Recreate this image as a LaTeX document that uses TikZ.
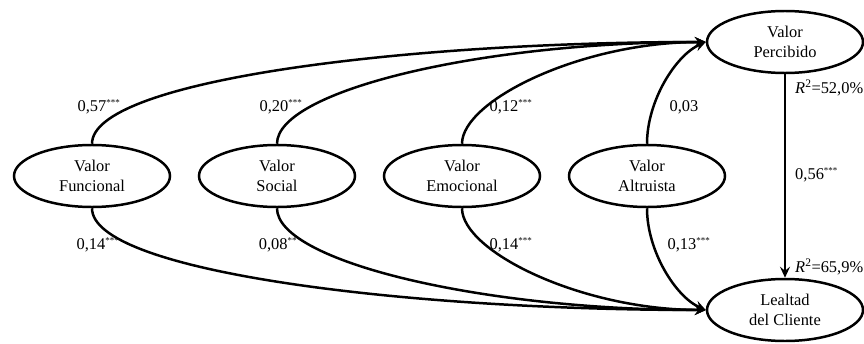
\documentclass[tikz,border=0pt]{standalone}
\usepackage{fontspec}
\setmainfont{Liberation Serif}
\usepackage{tikz}
\usetikzlibrary{shapes.geometric,arrows.meta}
\tikzset{latent/.style={draw, ellipse, line width=2.5pt, minimum width=156bp, minimum height=62bp,
inner sep=0pt, align=center, font=\fontsize{16.5}{20}\selectfont},
arrow/.style={draw, line width=2.5pt, -{Stealth[length=11bp, width=10bp, inset=4bp]}},
coef/.style={font=\fontsize{16.5}{20}\selectfont, inner sep=0pt}}
\newcommand{\signif}[1]{\textsuperscript{\fontsize{9}{9}\selectfont #1}}

\begin{document}
\begin{tikzpicture}[x=1bp,y=1bp]
    \useasboundingbox (0,0) rectangle (864,343);

    % Define the latent variables
    \node[latent] (funcional) at (92,167) {Valor\\Funcional};
    \node[latent] (social) at (277,167) {Valor\\Social};
    \node[latent] (emocional) at (462,167) {Valor\\Emocional};
    \node[latent] (altruista) at (647,167) {Valor\\Altruista};
    \node[latent] (percibido) at (785,301) {Valor\\Percibido};
    \node[latent] (lealtad) at (785,33) {Lealtad\\del Cliente};

    % Paths to the perceived value
    \draw[arrow] (funcional.north) .. controls +(0,63) and +(-305,0) .. (percibido.west);
    \draw[arrow] (social.north) .. controls +(0,53) and +(-225,0) .. (percibido.west);
    \draw[arrow] (emocional.north) .. controls +(0,43) and +(-125,0) .. (percibido.west);
    \draw[arrow] (altruista.north) .. controls +(0,43) and +(-30,-13) .. (percibido.west);

    % Paths to the loyalty
    \draw[arrow] (funcional.south) .. controls +(0,-63) and +(-305,0) .. (lealtad.west);
    \draw[arrow] (social.south) .. controls +(0,-53) and +(-225,0) .. (lealtad.west);
    \draw[arrow] (emocional.south) .. controls +(0,-43) and +(-125,0) .. (lealtad.west);
    \draw[arrow] (altruista.south) .. controls +(0,-43) and +(-30,13) .. (lealtad.west);
    \draw[arrow] (percibido.south) -- (lealtad.north);

    % Coefficients
    \node[coef] (cfp) at (99,236) {0,57\signif{***}};
    \node[coef] (csp) at (281,236) {0,20\signif{***}};
    \node[coef] (cep) at (511,236) {0,12\signif{***}};
    \node[coef] (cap) at (684,236) {0,03};
    \node[coef] (cfl) at (98,98) {0,14\signif{***}};
    \node[coef] (csl) at (278,98) {0,08\signif{**}};
    \node[coef] (cel) at (511,98) {0,14\signif{***}};
    \node[coef] (cal) at (689,98) {0,13\signif{***}};
    \node[coef, anchor=west] (cpl) at (795,168) {0,56\signif{***}};
    \node[coef, anchor=west] (rp) at (795,255) {\textit{R}\textsuperscript{2}=52,0\%};
    \node[coef, anchor=west] (rl) at (795,76) {\textit{R}\textsuperscript{2}=65,9\%};
\end{tikzpicture}
\end{document}
